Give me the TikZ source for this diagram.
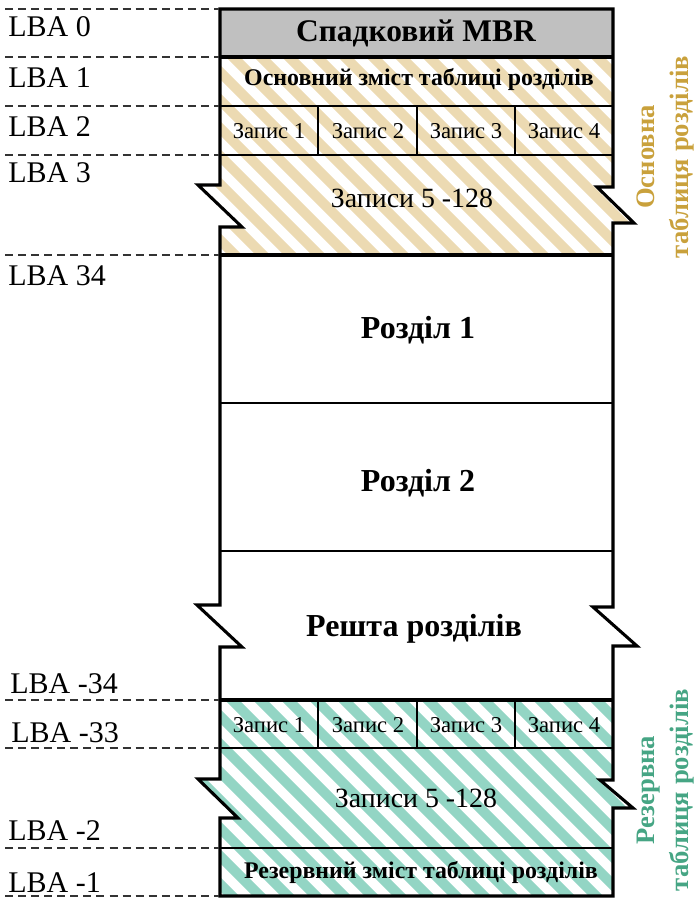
\documentclass[tikz,border=0pt]{standalone}
\usepackage{fontspec}
\setmainfont{Liberation Serif}
\definecolor{tan}{RGB}{236,218,178}
\definecolor{teal}{RGB}{147,213,196}
\definecolor{tantext}{RGB}{201,161,60}
\definecolor{tealtext}{RGB}{70,165,132}
\definecolor{mbrgray}{RGB}{192,192,192}
\tikzset{
  outer/.style={line width=2.3pt, line join=miter},
  thickline/.style={line width=2.3pt},
  thinline/.style={line width=1.1pt},
  lbaline/.style={line width=1.6pt, dash pattern=on 6pt off 3.8pt, black!80},
  lba/.style={anchor=base west, inner sep=0pt, font=\rmfamily\fontsize{22.5}{26}\selectfont},
  cell/.style={inner sep=0pt, font=\rmfamily\fontsize{17}{20}\selectfont},
  many/.style={inner sep=0pt, font=\rmfamily\fontsize{20.9}{24}\selectfont},
  part/.style={inner sep=0pt, font=\rmfamily\bfseries\fontsize{24}{28}\selectfont},
  hdr/.style={inner sep=0pt, font=\rmfamily\bfseries\fontsize{17.9}{21}\selectfont},
  side/.style={inner sep=0pt, rotate=90, align=center, font=\rmfamily\bfseries\fontsize{20}{25.5}\selectfont},
}
\begin{document}
\begin{tikzpicture}[x=0.75pt,y=-0.75pt]
\useasboundingbox (0,0) rectangle (696,909);
% MBR
\fill[mbrgray] (220,9) rectangle (613,57);
% primary table region (hatched tan)
\def\prim{(220,57) -- (613,57) -- (613,187) -- (597,187) -- (634,223) -- (613,223) -- (613,255) -- (220,255) -- (220,227) -- (242,227) -- (198,185) -- (220,185) -- cycle}
\def\back{(220,700) -- (613,700) -- (613,780) -- (600,780) -- (633,808) -- (613,808) -- (613,896) -- (220,896) -- (220,818) -- (238,818) -- (198,779) -- (220,779) -- cycle}
\begin{scope}
\clip \prim;
\foreach \c in {-720,-692,...,660} \draw[tan, line width=7.5pt] (\c,0) -- ++(1000,1000);
\end{scope}
\begin{scope}
\clip \back;
\foreach \c in {-720,-692,...,660} \draw[teal, line width=7.5pt] (\c,0) -- ++(1000,1000);
\end{scope}
% outer outline
\draw[outer] (220,9) -- (613,9) -- (613,187) -- (597,187) -- (634,223) -- (613,223)
  -- (613,607) -- (593,607) -- (637,646) -- (613,646)
  -- (613,780) -- (600,780) -- (633,808) -- (613,808) -- (613,896)
  -- (220,896) -- (220,818) -- (238,818) -- (198,779) -- (220,779)
  -- (220,647) -- (242,647) -- (197,605) -- (220,605)
  -- (220,227) -- (242,227) -- (198,185) -- (220,185) -- cycle;
% internal lines
\draw[thickline] (220,57) -- (613,57);
\draw[thickline] (220,255) -- (613,255);
\draw[thickline] (220,700) -- (613,700);
\foreach \y in {106,155,403,551,748,848} \draw[thinline] (220,\y) -- (613,\y);
\foreach \x in {318,417,515} {
  \draw[thinline] (\x,106) -- (\x,155);
  \draw[thinline] (\x,700) -- (\x,748);
}
% LBA dashed lines
\foreach \y in {9,57,106,155,255,700,748,848,896} \draw[lbaline] (5,\y) -- (219,\y);
% LBA labels
\node[lba] (l0) at (8,37) {LBA 0};
\node[lba] (l1) at (8,88) {LBA 1};
\node[lba] (l2) at (8,137) {LBA 2};
\node[lba] (l3) at (8,183) {LBA 3};
\node[lba] (l34) at (8,285) {LBA 34};
\node[lba] (lm34) at (10,693) {LBA -34};
\node[lba] (lm33) at (11,742) {LBA -33};
\node[lba] (lm2) at (8,840) {LBA -2};
\node[lba] (lm1) at (8,892) {LBA -1};
% texts in box
\node[inner sep=0pt, font=\rmfamily\bfseries\fontsize{23.6}{27}\selectfont] (mbr) at (416,33) {Спадковий MBR};
\node[hdr] (ph) at (419,80) {Основний зміст таблиці розділів};
\node[cell] (p1) at (269,131) {Запис 1};
\node[cell] (p2) at (368,131) {Запис 2};
\node[cell] (p3) at (466,131) {Запис 3};
\node[cell] (p4) at (564,131) {Запис 4};
\node[many] (p5) at (412,198) {Записи 5 -128};
\node[part] (r1) at (418,330) {Розділ 1};
\node[part] (r2) at (418,483) {Розділ 2};
\node[part] (rr) at (414,629) {Решта розділів};
\node[cell] (b1) at (269,725) {Запис 1};
\node[cell] (b2) at (368,725) {Запис 2};
\node[cell] (b3) at (466,725) {Запис 3};
\node[cell] (b4) at (564,725) {Запис 4};
\node[many] (b5) at (416,798) {Записи 5 -128};
\node[hdr] (bh) at (421,872) {Резервний зміст таблиці розділів};
% side labels
\node[side, text=tantext] (ps) at (665,157) {Основна\\таблиця розділів};
\node[side, text=tealtext] (bs) at (666,790) {Резервна\\таблиця розділів};
\end{tikzpicture}
\end{document}
